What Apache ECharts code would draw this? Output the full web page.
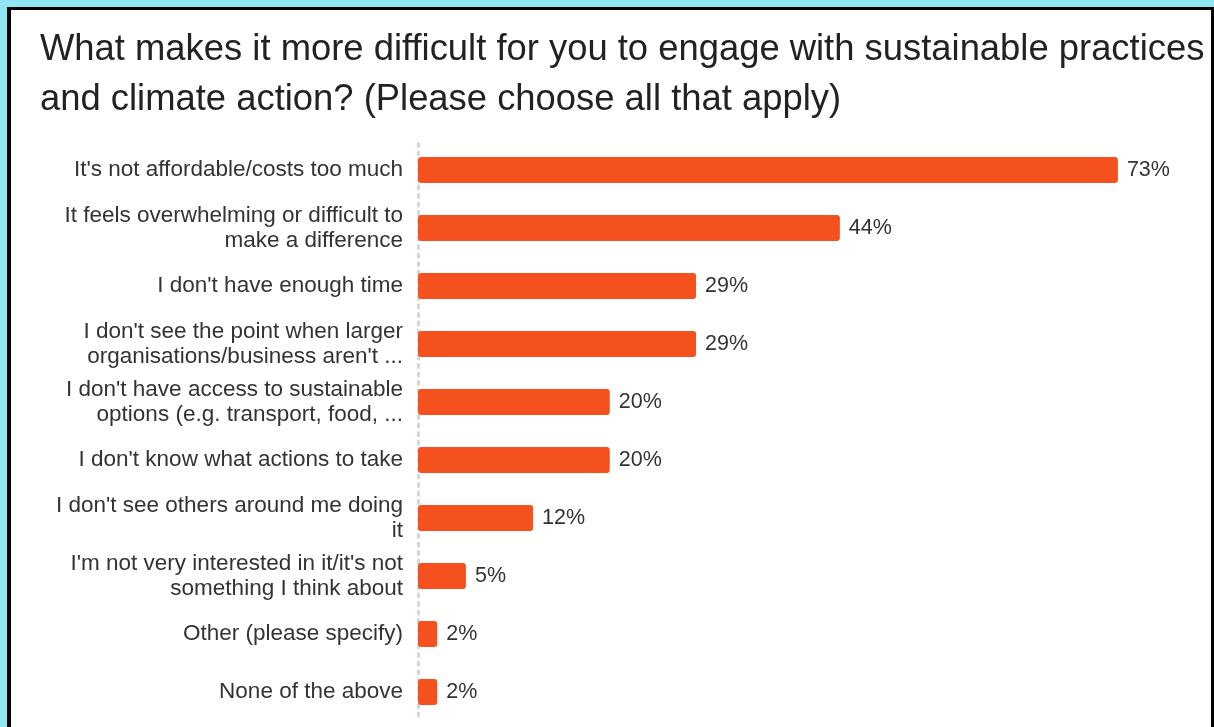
<!DOCTYPE html>
<html>
<head>
<meta charset="utf-8">
<script src="https://cdn.jsdelivr.net/npm/echarts@6/dist/echarts.min.js"></script>
<style>
  html, body { margin: 0; padding: 0; width: 1214px; height: 727px; overflow: hidden; background: #8fe6f0; }
  #frame {
    position: absolute; left: 7px; top: 7px; width: 1200px; height: 740px;
    background: #ffffff; border-left: 4px solid #000; border-top: 3px solid #000; border-right: 3px solid #000;
  }
  #chart { position: absolute; left: 0; top: 0; width: 1214px; height: 727px; }
</style>
</head>
<body>
<div id="frame"></div>
<div id="chart"></div>
<script>
// Survey answers, top to bottom
const categories = [
  "It's not affordable/costs too much",
  "It feels overwhelming or difficult to\nmake a difference",
  "I don't have enough time",
  "I don't see the point when larger\norganisations/business aren't ...",
  "I don't have access to sustainable\noptions (e.g. transport, food, ...",
  "I don't know what actions to take",
  "I don't see others around me doing\nit",
  "I'm not very interested in it/it's not\nsomething I think about",
  "Other (please specify)",
  "None of the above"
];
// Share of respondents, percent
const shares = [73, 44, 29, 29, 20, 20, 12, 5, 2, 2];

const titleText = "What makes it more difficult for you to engage with sustainable practices\nand climate action? (Please choose all that apply)";

const chart = echarts.init(document.getElementById('chart'), null, { renderer: 'canvas' });
const font = "'Liberation Sans', Arial, sans-serif";

chart.setOption({
  backgroundColor: 'transparent',
  animation: false,
  title: {
    text: titleText,
    left: 35,
    top: 20,
    textStyle: { fontFamily: font, fontSize: 36.4, fontWeight: 'normal', color: '#222222', lineHeight: 50 }
  },
  grid: { left: 418, right: 29, top: 141, bottom: 6, containLabel: false },
  xAxis: {
    type: 'value', min: 0, max: 80,
    show: false
  },
  yAxis: {
    type: 'category',
    inverse: true,
    data: categories,
    axisTick: { show: false },
    axisLine: { show: true, lineStyle: { color: '#d6d6d6', width: 3, type: [3, 5.5], dashOffset: 6 } },
    axisLabel: {
      fontFamily: font, fontSize: 22.5, color: '#333333', margin: 15,
      lineHeight: 25, align: 'right', padding: [6, 0, 0, 0]
    },
    splitLine: { show: false }
  },
  series: [{
    type: 'bar',
    data: shares,
    barWidth: 26,
    itemStyle: { color: '#f4511e', borderRadius: 3 },
    label: {
      show: true, position: 'right', distance: 9,
      formatter: p => p.value + '%',
      fontFamily: font, fontSize: 21.5, color: '#333333'
    }
  }]
});
</script>
</body>
</html>
